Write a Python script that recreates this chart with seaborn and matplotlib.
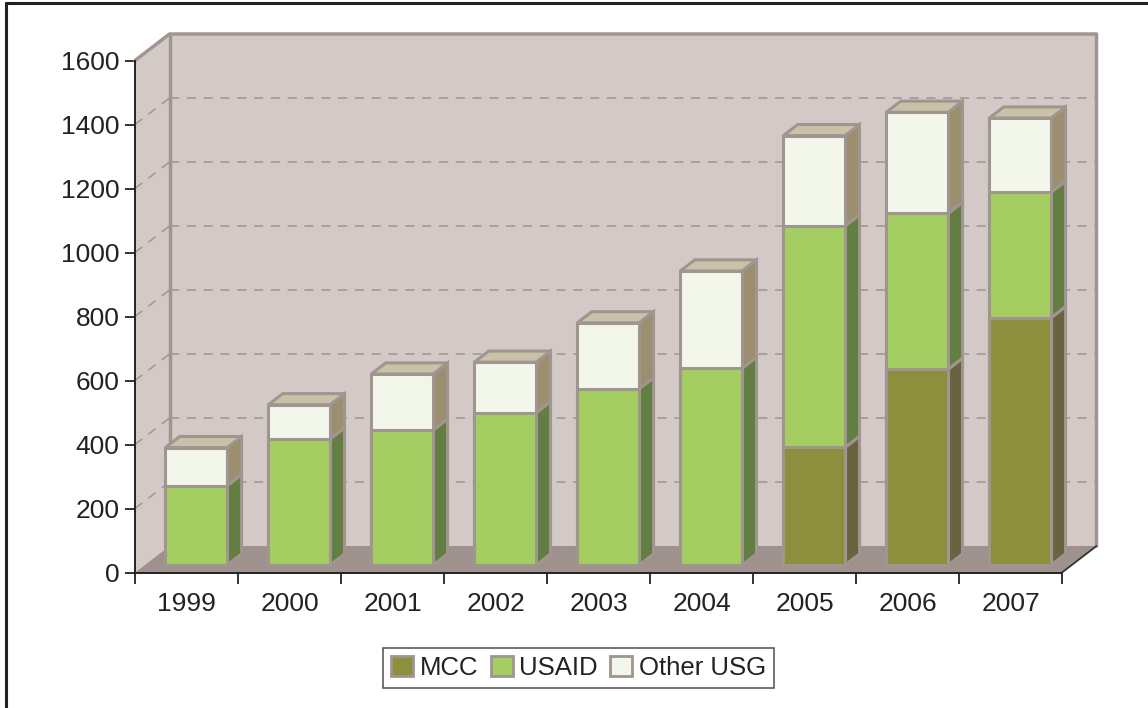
import matplotlib
matplotlib.use("Agg")
import matplotlib.pyplot as plt
from matplotlib.patches import Polygon, Rectangle, Patch
from matplotlib.lines import Line2D
import seaborn as sns
import numpy as np

# ---- data ----
years = ["1999", "2000", "2001", "2002", "2003", "2004", "2005", "2006", "2007"]
mcc = [0, 0, 0, 0, 0, 0, 368, 612, 773]
usaid = [248, 394, 422, 476, 551, 615, 692, 487, 392]
other = [119, 107, 175, 158, 206, 304, 282, 316, 232]
series_names = ["MCC", "USAID", "Other USG"]
yticks = [0, 200, 400, 600, 800, 1000, 1200, 1400, 1600]

# ---- style ----
sns.set_style("white")
plt.rcParams["font.family"] = ["Liberation Sans", "DejaVu Sans"]

front_cols = ["#8C8F3C", "#A4CE62", "#F3F6EA"]
side_cols = ["#6B6340", "#627E42", "#9B8F70"]
top_col = "#C8C2A8"
edge = "#A0958F"
wall = "#D3CAC8"
floor_col = "#9F918D"
txt = "#222222"

W, H = 1148, 708
fig = plt.figure(figsize=(W / 100, H / 100), dpi=100)
fig.patch.set_facecolor("white")

# axes in pixel layout
x0p, x1p, y0p, y1p = 135, 1099, 572.5, 34
ax = fig.add_axes([x0p / W, 1 - y0p / H, (x1p - x0p) / W, (y0p - y1p) / H])
px_per_x = 103.0
px_per_y = 0.32
Dx = 34.5 / px_per_x
Dy = 26.5 / px_per_y
XLIM = (-0.5, -0.5 + (x1p - x0p) / px_per_x)
YLIM = (0, (y0p - y1p) / px_per_y)
ax.patch.set_alpha(0)

n = len(years)
ymax = yticks[-1]

# walls and floor
ax.add_patch(Polygon([(-0.5, 0), (-0.5, ymax), (-0.5 + Dx, ymax + Dy), (-0.5 + Dx, Dy)],
                     closed=True, facecolor=wall, edgecolor="none", zorder=0.5))
ax.add_patch(Rectangle((-0.5 + Dx, Dy), n, ymax, facecolor=wall, edgecolor="none", zorder=0.5))
ax.add_patch(Polygon([(-0.5, 0), (n - 0.5, 0), (n - 0.5 + Dx, Dy), (-0.5 + Dx, Dy)],
                     closed=True, facecolor=floor_col, edgecolor="none", zorder=0.6))
# gridlines
for v in yticks[1:-1]:
    ax.plot([-0.5 + Dx, n - 0.5 + Dx], [v + Dy, v + Dy], color=edge, lw=1.1,
            ls=(0, (6, 5)), zorder=0.7)
    ax.plot([-0.5, -0.5 + Dx], [v, v + Dy], color=edge, lw=1.1,
            ls=(0, (6, 5)), zorder=0.7)
# wall edges
ax.plot([-0.5 + Dx, -0.5 + Dx], [Dy, ymax + Dy], color=edge, lw=2.5, zorder=0.8)
ax.plot([-0.5, -0.5 + Dx, n - 0.5 + Dx, n - 0.5 + Dx], [ymax, ymax + Dy, ymax + Dy, Dy],
        color=edge, lw=2.5, zorder=0.8, clip_on=False)
ax.plot([n - 0.5, n - 0.5 + Dx], [0, Dy], color="#333333", lw=1.3, zorder=0.8, clip_on=False)

# ---- bars (front faces via seaborn, cumulative overlap) ----
bw = 0.6
f0, f1 = 0.28, 0.70
mcc_a, us_a, ot_a = np.array(mcc), np.array(usaid), np.array(other)
cum = [mcc_a, mcc_a + us_a, mcc_a + us_a + ot_a]
for k in [2, 1, 0]:
    before = len(ax.patches)
    sns.barplot(x=years, y=cum[k], color=front_cols[k], width=bw, errorbar=None,
                edgecolor=edge, linewidth=2.2, saturation=1, ax=ax, order=years)
    for p in ax.patches[before:]:
        p.set_facecolor(front_cols[k])
        p.set_x(p.get_x() + f0 * Dx)
        p.set_y(p.get_y() + f0 * Dy)
        p.set_zorder(3 + (2 - k) * 0.1)
        p.set_joinstyle("miter")

# side and top faces
for i in range(n):
    xr = i + bw / 2
    xl = i - bw / 2
    segs = [(0, mcc[i]), (mcc[i], mcc[i] + usaid[i]),
            (mcc[i] + usaid[i], mcc[i] + usaid[i] + other[i])]
    for k, (b, t) in enumerate(segs):
        if t - b <= 0:
            continue
        ax.add_patch(Polygon([(xr + f0 * Dx, b + f0 * Dy), (xr + f1 * Dx, b + f1 * Dy),
                              (xr + f1 * Dx, t + f1 * Dy), (xr + f0 * Dx, t + f0 * Dy)],
                             closed=True, facecolor=side_cols[k], edgecolor=edge,
                             lw=2.2, joinstyle="miter", zorder=2))
    top = segs[-1][1]
    ax.add_patch(Polygon([(xl + f0 * Dx, top + f0 * Dy), (xr + f0 * Dx, top + f0 * Dy),
                          (xr + f1 * Dx, top + f1 * Dy), (xl + f1 * Dx, top + f1 * Dy)],
                         closed=True, facecolor=top_col, edgecolor=edge,
                         lw=2.2, joinstyle="miter", zorder=2))

ax.set_xlim(*XLIM)
ax.set_ylim(*YLIM)

# ---- axes, ticks ----
for s in ["top", "right"]:
    ax.spines[s].set_visible(False)
for s in ["left", "bottom"]:
    ax.spines[s].set_color(txt)
    ax.spines[s].set_linewidth(1.4)
    ax.spines[s].set_zorder(5)
ax.spines["left"].set_bounds(0, ymax)
ax.spines["bottom"].set_bounds(-0.5, n - 0.5)

ax.set_yticks(yticks)
ax.set_yticklabels([str(v) for v in yticks], fontsize=19, color=txt)
ax.tick_params(axis="y", length=7, width=1.3, color=txt, pad=4, direction="out", left=True)

ax.set_xticks(range(n))
ax.set_xticklabels(years, fontsize=19, color=txt)
ax.set_xticks(np.arange(-0.5, n, 1), minor=True)
ax.tick_params(axis="x", which="major", length=0, pad=14, bottom=True)
ax.tick_params(axis="x", which="minor", length=8, width=1.3, color=txt, bottom=True)
ax.set_xlabel("")
ax.set_ylabel("")
ax.grid(False)

# ---- legend ----
handles = [Patch(facecolor=front_cols[k], edgecolor=edge, lw=2) for k in range(3)]
leg = fig.legend(handles, series_names, loc="center", bbox_to_anchor=(578.5 / W, 1 - 668 / H),
                 ncol=3, fontsize=18.5, frameon=True, fancybox=False, handlelength=0.85,
                 handleheight=0.85, handletextpad=0.25, columnspacing=0.5,
                 borderpad=0.3, borderaxespad=0)
leg.get_frame().set_edgecolor(txt)
leg.get_frame().set_linewidth(1.1)
for t in leg.get_texts():
    t.set_color(txt)

# figure border (top and left)
fig.add_artist(Line2D([5.5 / W, 5.5 / W], [0, 1 - 2.5 / H], transform=fig.transFigure,
                      color=txt, lw=2.2))
fig.add_artist(Line2D([5.5 / W, 1], [1 - 2.5 / H, 1 - 2.5 / H], transform=fig.transFigure,
                      color=txt, lw=2.2))

fig.savefig("out.png", dpi=100)
